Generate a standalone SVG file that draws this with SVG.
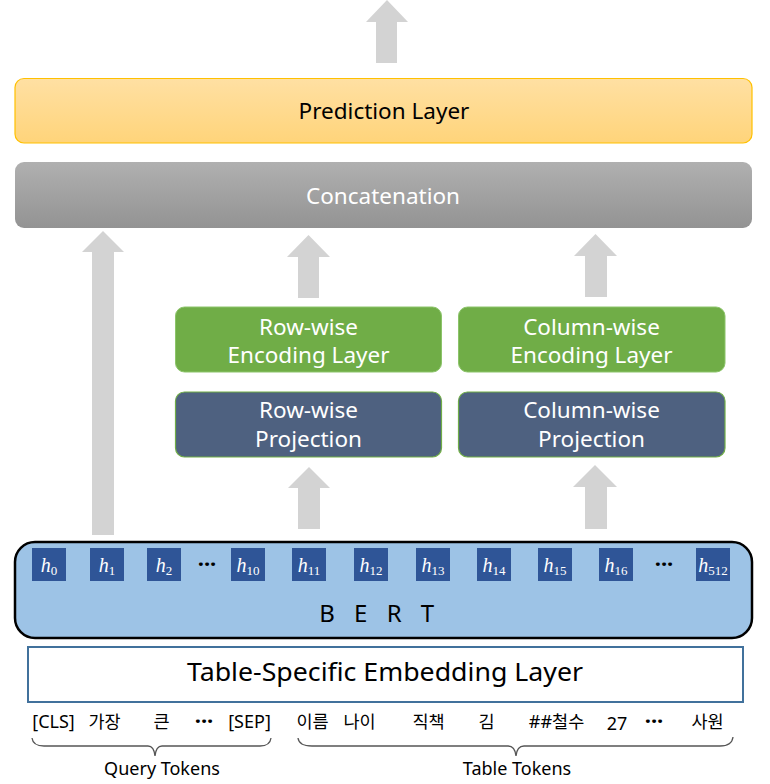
<svg xmlns="http://www.w3.org/2000/svg" width="770" height="784" viewBox="0 0 770 784">
<style>
.t{font-family:"Noto Sans","Noto Sans CJK KR",sans-serif;}
.lbl{font-size:22.5px;text-anchor:middle;}
.w{fill:#fff;}
.k{fill:#000;}
.arrow{fill:#D3D3D3;}
.hb{fill:#2F5597;}
.h{font-family:"Liberation Serif","DejaVu Serif",serif;font-style:italic;font-size:20px;fill:#fff;text-anchor:middle;}
.sub{font-style:normal;font-size:13px;}
.tok{font-size:18px;text-anchor:middle;fill:#000;}
.ko{font-size:17.5px;}
.dots{font-size:22px;font-weight:bold;text-anchor:middle;fill:#000;}
.brace{fill:none;stroke:#555;stroke-width:1.3;}
</style>
<defs>
<linearGradient id="gPred" x1="0" y1="0" x2="0" y2="1"><stop offset="0" stop-color="#FFE0A3"/><stop offset="1" stop-color="#FFD47A"/></linearGradient>
<linearGradient id="gConc" x1="0" y1="0" x2="0" y2="1"><stop offset="0" stop-color="#B0B0B0"/><stop offset="1" stop-color="#939393"/></linearGradient>
</defs>

<g id="connectors">
<polygon class="arrow" points="376,63 376,22 366,22 387,0 408,22 397,22 397,63"/>
<polygon class="arrow" points="92,535 92,252 82,252 103,231 124,252 114,252 114,535"/>
<polygon class="arrow" points="298,298 298,257 287,257 308.5,235 330,257 319,257 319,298"/>
<polygon class="arrow" points="585,297 585,256 574,256 595.5,234 617,256 607,256 607,297"/>
<polygon class="arrow" points="298,529 298,488 288,488 309,467 330,488 320,488 320,529"/>
<polygon class="arrow" points="585,529 585,487 573,487 595,465 617,487 607,487 607,529"/>
</g>

<g id="prediction">
<rect x="15" y="78.5" width="737" height="64.5" rx="9" fill="url(#gPred)" stroke="#FFC000" stroke-width="1.2"/>
<text class="t lbl k" x="384" y="119" font-size="23">Prediction Layer</text>
</g>

<g id="concatenation">
<rect x="15" y="162" width="737" height="66" rx="9" fill="url(#gConc)"/>
<text class="t lbl w" x="383" y="204" font-size="23">Concatenation</text>
</g>

<g id="row-encoding">
<rect x="175.5" y="307" width="266" height="65" rx="9" fill="#70AD47" stroke="#8CC46A" stroke-width="1"/>
<text class="t lbl w" x="308.5" y="335">Row-wise</text>
<text class="t lbl w" x="308.5" y="363">Encoding Layer</text>
</g>

<g id="col-encoding">
<rect x="458.5" y="307" width="266.5" height="65" rx="9" fill="#70AD47" stroke="#8CC46A" stroke-width="1"/>
<text class="t lbl w" x="591.5" y="335">Column-wise</text>
<text class="t lbl w" x="591.5" y="363">Encoding Layer</text>
</g>

<g id="row-projection">
<rect x="175.5" y="392" width="266" height="65" rx="9" fill="#4E6180" stroke="#70AD47" stroke-width="1.2"/>
<text class="t lbl w" x="308.5" y="418">Row-wise</text>
<text class="t lbl w" x="308.5" y="447">Projection</text>
</g>

<g id="col-projection">
<rect x="458.5" y="392" width="266.5" height="65" rx="9" fill="#4E6180" stroke="#70AD47" stroke-width="1.2"/>
<text class="t lbl w" x="591.5" y="418">Column-wise</text>
<text class="t lbl w" x="591.5" y="447">Projection</text>
</g>

<g id="bert">
<rect x="15" y="542" width="737" height="96" rx="20" fill="#9DC3E6" stroke="#000" stroke-width="2.5"/>
<rect class="hb" x="32" y="548" width="34" height="33"/>
<rect class="hb" x="90" y="548" width="34" height="33"/>
<rect class="hb" x="147" y="548" width="34" height="33"/>
<rect class="hb" x="231" y="548" width="34" height="33"/>
<rect class="hb" x="292" y="548" width="34" height="33"/>
<rect class="hb" x="354" y="548" width="34" height="33"/>
<rect class="hb" x="416" y="548" width="34" height="33"/>
<rect class="hb" x="477" y="548" width="34" height="33"/>
<rect class="hb" x="538" y="548" width="34" height="33"/>
<rect class="hb" x="599" y="548" width="34" height="33"/>
<rect class="hb" x="696" y="548" width="34" height="33"/>
<text class="h" x="49" y="572">h<tspan class="sub" dy="3">0</tspan></text>
<text class="h" x="107" y="572">h<tspan class="sub" dy="3">1</tspan></text>
<text class="h" x="164" y="572">h<tspan class="sub" dy="3">2</tspan></text>
<text class="h" x="248" y="572">h<tspan class="sub" dy="3">10</tspan></text>
<text class="h" x="309" y="572">h<tspan class="sub" dy="3">11</tspan></text>
<text class="h" x="371" y="572">h<tspan class="sub" dy="3">12</tspan></text>
<text class="h" x="433" y="572">h<tspan class="sub" dy="3">13</tspan></text>
<text class="h" x="494" y="572">h<tspan class="sub" dy="3">14</tspan></text>
<text class="h" x="555" y="572">h<tspan class="sub" dy="3">15</tspan></text>
<text class="h" x="616" y="572">h<tspan class="sub" dy="3">16</tspan></text>
<text class="h" x="713" y="572">h<tspan class="sub" dy="3" font-size="11">512</tspan></text>
<text class="t dots" x="207" y="572">···</text>
<text class="t dots" x="664" y="572">···</text>
<text class="t" x="380" y="622" font-size="24" text-anchor="middle" fill="#000" letter-spacing="6.5">B E R T</text>
</g>

<g id="embedding">
<rect x="28" y="647" width="715" height="55" fill="#fff" stroke="#41719C" stroke-width="2"/>
<text class="t" x="385" y="681" font-size="25" text-anchor="middle" fill="#000" textLength="396" lengthAdjust="spacingAndGlyphs">Table-Specific Embedding Layer</text>
</g>

<g id="query-tokens">
<text class="t tok" x="53.5" y="728">[CLS]</text>
<text class="t tok ko" x="104.5" y="728">가장</text>
<text class="t tok ko" x="161.5" y="728">큰</text>
<text class="t dots" x="204" y="729">···</text>
<text class="t tok" x="249.5" y="728">[SEP]</text>
<path class="brace" d="M32,738 Q33,746 44,746 L148,746 Q154,746 155,756 Q156,746 162,746 L260,746 Q270,746 271,738"/>
<text class="t tok" x="162" y="775">Query Tokens</text>
</g>

<g id="table-tokens">
<text class="t tok ko" x="312.5" y="728">이름</text>
<text class="t tok ko" x="359.5" y="728">나이</text>
<text class="t tok ko" x="428.5" y="728">직책</text>
<text class="t tok ko" x="486.5" y="728">김</text>
<text class="t tok" x="556.5" y="728">##<tspan class="ko">철수</tspan></text>
<text class="t tok" x="617" y="730">27</text>
<text class="t dots" x="654" y="729">···</text>
<text class="t tok ko" x="707.5" y="728">사원</text>
<path class="brace" d="M298,738 Q299,746 312,746 L508,746 Q515,746 516,756 Q517,746 524,746 L720,746 Q732,746 733,737"/>
<text class="t tok" x="517" y="775">Table Tokens</text>
</g>
</svg>
